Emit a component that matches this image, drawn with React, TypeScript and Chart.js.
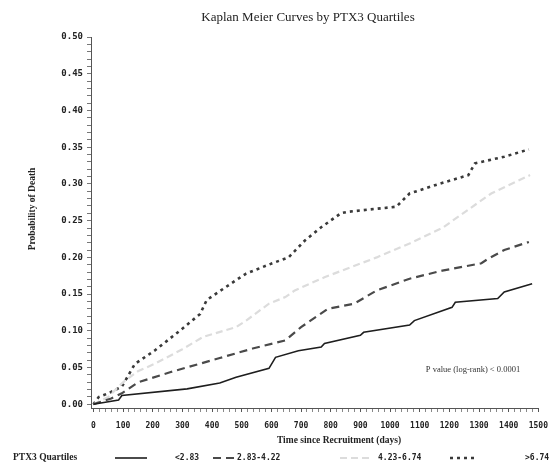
import React, { useEffect, useRef } from "react";
import { Chart, registerables } from "chart.js";
Chart.register(...registerables);

const titleText = "Kaplan Meier Curves by PTX3 Quartiles";
const xTitle = "Time since Recruitment (days)";
const yTitle = "Probability of Death";
const pValueText = "P value (log-rank) < 0.0001";
const legendTitle = "PTX3 Quartiles";
const seriesLabels = ["<2.83", "2.83-4.22", "4.23-6.74", ">6.74"];

const xTickValues = [0, 100, 200, 300, 400, 500, 600, 700, 800, 900, 1000, 1100, 1200, 1300, 1400, 1500];
const yTickValues = [0, 0.05, 0.1, 0.15, 0.2, 0.25, 0.3, 0.35, 0.4, 0.45, 0.5];

const daysQ1 = [0, 85, 96, 316, 426, 481, 592, 614, 691, 768, 779, 900, 911, 1066, 1082, 1209, 1220, 1363, 1385, 1479];
const probQ1 = [0, 0.006, 0.012, 0.021, 0.029, 0.037, 0.049, 0.064, 0.073, 0.078, 0.083, 0.094, 0.098, 0.108, 0.114, 0.132, 0.139, 0.144, 0.153, 0.164];

const daysQ2 = [0, 60, 96, 151, 261, 426, 537, 647, 679, 700, 790, 879, 955, 1066, 1176, 1308, 1330, 1385, 1468];
const probQ2 = [0, 0.008, 0.015, 0.03, 0.044, 0.063, 0.076, 0.087, 0.098, 0.105, 0.13, 0.137, 0.155, 0.171, 0.182, 0.192, 0.198, 0.21, 0.221];

const daysQ3 = [0, 50, 100, 150, 206, 300, 371, 481, 515, 592, 647, 679, 779, 955, 1066, 1176, 1341, 1472];
const probQ3 = [0, 0.01, 0.03, 0.045, 0.055, 0.075, 0.092, 0.105, 0.114, 0.137, 0.146, 0.155, 0.173, 0.2, 0.219, 0.24, 0.287, 0.312];

const daysQ4 = [0, 18, 50, 96, 140, 206, 294, 360, 382, 481, 515, 603, 658, 713, 768, 834, 856, 1021, 1066, 1165, 1264, 1286, 1385, 1468];
const probQ4 = [0, 0.01, 0.015, 0.024, 0.055, 0.073, 0.101, 0.123, 0.142, 0.169, 0.178, 0.192, 0.2, 0.223, 0.241, 0.26, 0.262, 0.269, 0.287, 0.3, 0.312, 0.328, 0.337, 0.347];

const W = 557;
const H = 470;
const PAD_L = 8;
const PLOT_L = 91;
const PLOT_R = 548;
const PLOT_T = 37;
const PLOT_B = 408;

const styles = [
  { color: "#1e1e1e", width: 1.6, dash: [] as number[] },
  { color: "#4a4a4a", width: 2.2, dash: [8, 5] },
  { color: "#dcdcdc", width: 2.2, dash: [7, 4] },
  { color: "#3a3a3a", width: 2.6, dash: [3, 4] },
];

function pts(xs: number[], ys: number[]) {
  return xs.map((x, i) => ({ x, y: ys[i] }));
}

export default function App() {
  const ref = useRef<HTMLCanvasElement | null>(null);
  useEffect(() => {
    if (!ref.current) return;
    const decor = {
      id: "decor",
      beforeDraw(chart: any) {
        const ctx = chart.ctx;
        ctx.save();
        ctx.fillStyle = "#ffffff";
        ctx.fillRect(0, 0, chart.width, chart.height);
        ctx.restore();
      },
      afterDraw(chart: any) {
        const ctx = chart.ctx;
        ctx.save();
        ctx.fillStyle = "#222";
        ctx.textBaseline = "middle";
        ctx.textAlign = "center";
        ctx.font = '13px "Liberation Serif"';
        ctx.fillText(titleText, 308, 18);
        ctx.font = 'bold 9.5px "Liberation Serif"';
        ctx.fillText(xTitle, 339, 441);
        ctx.save();
        ctx.translate(33, 209);
        ctx.rotate(-Math.PI / 2);
        ctx.fillText(yTitle, 0, 0);
        ctx.restore();
        ctx.font = '8.5px "Liberation Serif"';
        ctx.fillStyle = "#333";
        ctx.fillText(pValueText, 473, 370);
        // legend
        const ly = 458;
        ctx.textAlign = "left";
        ctx.fillStyle = "#222";
        ctx.font = 'bold 9.5px "Liberation Serif"';
        ctx.fillText(legendTitle, 13, ly);
        const samples = [
          [115, 147],
          [213, 236],
          [340, 370],
          [450, 478],
        ];
        const textX = [175, 237, 378, 525];
        ctx.font = 'bold 8px "DejaVu Sans Mono"';
        samples.forEach((s, i) => {
          const st = styles[i];
          ctx.strokeStyle = st.color;
          ctx.lineWidth = st.width;
          ctx.setLineDash(st.dash);
          ctx.beginPath();
          ctx.moveTo(s[0], ly);
          ctx.lineTo(s[1], ly);
          ctx.stroke();
          ctx.setLineDash([]);
          ctx.fillStyle = "#222";
          ctx.fillText(seriesLabels[i], textX[i], ly);
        });
        ctx.restore();
      },
    };
    const allX = (scale: any) => {
      const t = [];
      for (let v = 0; v <= 1500; v += 20) t.push({ value: v });
      scale.ticks = t;
    };
    const allY = (scale: any) => {
      const t = [];
      for (let i = 0; i <= 50; i++) t.push({ value: i / 100 });
      scale.ticks = t;
    };
    const chart = new Chart(ref.current, {
      type: "line",
      data: {
        datasets: [
          { label: seriesLabels[0], data: pts(daysQ1, probQ1) },
          { label: seriesLabels[1], data: pts(daysQ2, probQ2) },
          { label: seriesLabels[2], data: pts(daysQ3, probQ3) },
          { label: seriesLabels[3], data: pts(daysQ4, probQ4) },
        ].map((d, i) => ({
          ...d,
          borderColor: styles[i].color,
          borderWidth: styles[i].width,
          borderDash: styles[i].dash,
          pointRadius: 0,
          tension: 0,
          fill: false,
        })),
      },
      plugins: [decor],
      options: {
        animation: false,
        responsive: false,
        events: [],
        layout: { padding: { left: PAD_L, right: W - PLOT_R, top: PLOT_T, bottom: 0 } },
        plugins: { legend: { display: false }, title: { display: false }, tooltip: { enabled: false } },
        scales: {
          x: {
            type: "linear",
            min: -8,
            max: 1500,
            afterBuildTicks: allX,
            afterFit: (s: any) => {
              s.height = H - PLOT_B;
            },
            grid: {
              drawOnChartArea: false,
              drawTicks: true,
              tickLength: 4,
              color: (c: any) => (c.tick && c.tick.value % 100 === 0 ? "#555" : "#888"),
            },
            border: { display: true, color: "#555", width: 1 },
            ticks: {
              autoSkip: false,
              maxRotation: 0,
              padding: 9,
              color: "#222",
              font: { family: "DejaVu Sans Mono", size: 8, weight: "bold" },
              callback: (v: any) => (xTickValues.includes(v) ? String(v) : ""),
            },
          },
          y: {
            type: "linear",
            min: -0.005,
            max: 0.5,
            afterBuildTicks: allY,
            afterFit: (s: any) => {
              s.width = PLOT_L - PAD_L;
            },
            grid: {
              drawOnChartArea: false,
              drawTicks: true,
              tickLength: 4,
              color: "#777",
            },
            border: { display: true, color: "#555", width: 1 },
            ticks: {
              autoSkip: false,
              padding: 4,
              color: "#222",
              font: { family: "DejaVu Sans Mono", size: 9, weight: "bold" },
              callback: (v: any) => {
                const r = Math.round(v * 100);
                return r % 5 === 0 && yTickValues.some((t) => Math.abs(t - v) < 1e-6) ? (v as number).toFixed(2) : "";
              },
            },
          },
        },
      },
    } as any);
    return () => chart.destroy();
  }, []);
  return (
    <div style={{ position: "fixed", left: 0, top: 0, width: W, height: H, background: "#fff" }}>
      <canvas ref={ref} width={W} height={H} style={{ display: "block", width: W, height: H }} />
    </div>
  );
}
